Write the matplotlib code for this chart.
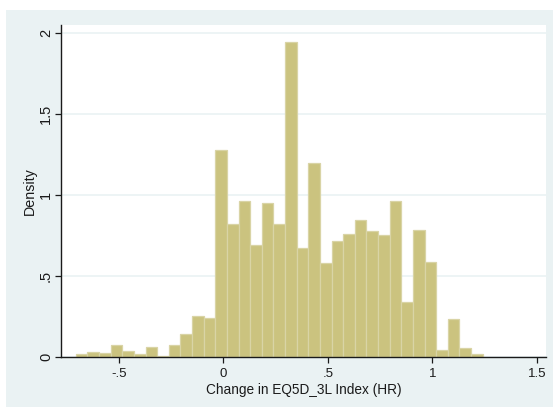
import numpy as np
import matplotlib
matplotlib.use("Agg")
import matplotlib.pyplot as plt
from matplotlib.patches import Rectangle

# ---------------- data ----------------
BIN_LEFT = -0.705
BIN_WIDTH = 0.0556
DENSITY = [0.017, 0.029, 0.023, 0.072, 0.039, 0.017, 0.060, 0.006, 0.072, 0.140,
           0.251, 0.239, 1.276, 0.819, 0.961, 0.690, 0.949, 0.819, 1.941, 0.670,
           1.200, 0.578, 0.714, 0.762, 0.848, 0.780, 0.751, 0.961, 0.338, 0.786,
           0.585, 0.045, 0.237, 0.058, 0.021]
X_TICKS = [-0.5, 0, 0.5, 1, 1.5]
X_LABELS = ["-.5", "0", ".5", "1", "1.5"]
Y_TICKS = [0, 0.5, 1, 1.5, 2]
Y_LABELS = ["0", ".5", "1", "1.5", "2"]
# -------------------------------------------------------------

BG = "#EAF2F3"
FILL = "#CBC37F"
EDGE = "#D9D4A6"
INK = "#1A1A1A"

plt.rcParams["font.family"] = ["Liberation Sans", "DejaVu Sans"]

W, H = 553, 407
fig = plt.figure(figsize=(W / 100, H / 100), dpi=100)
fig.patch.set_facecolor("white")
fig.patches.append(Rectangle((6 / W, 0), 1 - 6 / W, 1 - 10 / H,
                             transform=fig.transFigure, facecolor=BG,
                             edgecolor="none", zorder=-10))

ax = fig.add_axes([61 / W, (H - 357) / H, (546 - 61) / W, (357 - 25) / H])
ax.set_facecolor("white")

n = len(DENSITY)
lefts = BIN_LEFT + BIN_WIDTH * np.arange(n)
ax.bar(lefts, DENSITY, width=BIN_WIDTH, align="edge", color=FILL,
       edgecolor=EDGE, linewidth=0.9, zorder=2)

ax.set_xlim(-0.776, 1.544)
ax.set_ylim(0, 2.049)

ax.set_xticks(X_TICKS)
ax.set_xticklabels(X_LABELS)
ax.set_yticks(Y_TICKS)
ax.set_yticklabels(Y_LABELS, rotation=90, va="center")

ax.yaxis.grid(True, color=BG, linewidth=1.2, zorder=0)
ax.set_axisbelow(True)

for s in ["top", "right"]:
    ax.spines[s].set_visible(False)
for s in ["left", "bottom"]:
    ax.spines[s].set_color(INK)
    ax.spines[s].set_linewidth(1.0)

ax.tick_params(axis="x", length=4.3, width=0.9, color=INK, pad=3.5,
               labelsize=9.5, labelcolor=INK)
ax.tick_params(axis="y", length=4.3, width=0.9, color=INK, pad=1.5,
               labelsize=10.5, labelcolor=INK)

ax.set_xlabel("Change in EQ5D_3L Index (HR)", fontsize=9.8, color=INK, labelpad=2.5)
ax.set_ylabel("Density", fontsize=10.3, color=INK)
ax.yaxis.set_label_coords(-0.05, 0.5)

fig.savefig("out.png", dpi=100, facecolor=fig.get_facecolor())
